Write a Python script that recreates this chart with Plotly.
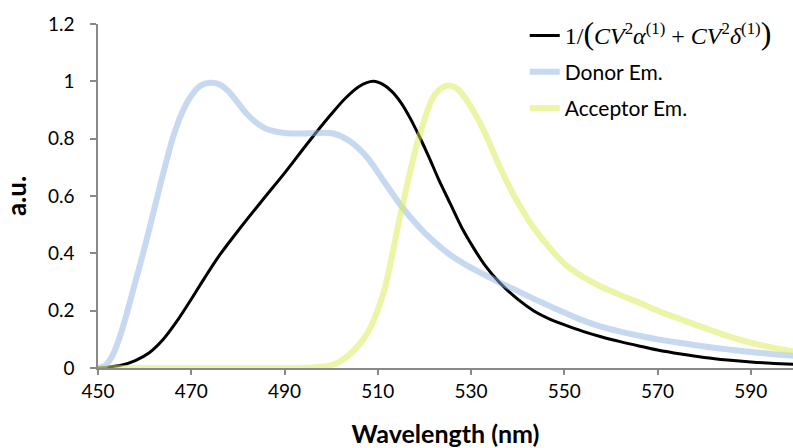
import plotly.graph_objects as go

# ---- data ----
fit_x = [450, 452, 455, 458, 461, 464, 467, 470, 473, 476, 480, 485, 490, 495, 500,
         503, 506, 509, 511, 513, 515, 517, 519, 521, 523, 525.5, 528, 530.5, 533, 536,
         540, 543.4, 547, 550.5, 554, 557.7, 562, 566, 570, 575, 580, 585, 590, 595, 600]
fit_y = [0, 0.003, 0.01, 0.026, 0.053, 0.10, 0.165, 0.24, 0.318, 0.392, 0.478, 0.58, 0.68, 0.785, 0.885,
         0.94, 0.982, 1.0, 0.99, 0.965, 0.925, 0.87, 0.805, 0.735, 0.66, 0.575, 0.49, 0.42, 0.358, 0.30,
         0.24, 0.20, 0.17, 0.148, 0.128, 0.11, 0.092, 0.077, 0.063, 0.049, 0.037, 0.028, 0.021, 0.016, 0.012]

donor_x = [450, 451.5, 453, 454.5, 456, 458, 460, 462, 464, 466, 468, 470, 472, 474, 476, 478,
           480, 482, 484, 486, 488, 490, 493.4, 497, 500.5, 504.1, 507.7, 511.2, 514.8, 518.4,
           521.9, 525.5, 529.1, 532.7, 536.2, 539.8, 543.4, 547, 550.5, 554, 557.7, 562, 566,
           570, 575, 580, 585, 590, 595, 600]
donor_y = [0, 0.008, 0.04, 0.1, 0.18, 0.3, 0.42, 0.55, 0.68, 0.8, 0.89, 0.95, 0.985, 0.995, 0.99, 0.965,
           0.925, 0.885, 0.855, 0.835, 0.825, 0.82, 0.818, 0.82, 0.818, 0.79, 0.735, 0.654, 0.57, 0.50,
           0.443, 0.395, 0.358, 0.327, 0.298, 0.27, 0.242, 0.215, 0.19, 0.166, 0.145, 0.127, 0.113,
           0.10, 0.087, 0.075, 0.065, 0.056, 0.048, 0.042]

acc_x = [450, 470, 490, 496, 500.5, 504.1, 507.7, 511.2, 514.8, 518.4, 521.9, 524, 525.5, 527,
         529.1, 532.7, 536.2, 539.8, 543.4, 547, 550.5, 554, 557.7, 562, 566, 570, 575, 580,
         585, 590, 595, 600]
acc_y = [0, 0, 0, 0.002, 0.012, 0.05, 0.12, 0.26, 0.53, 0.78, 0.945, 0.98, 0.985, 0.975,
         0.933, 0.83, 0.70, 0.584, 0.49, 0.416, 0.357, 0.318, 0.285, 0.255, 0.228, 0.20, 0.17, 0.14,
         0.112, 0.088, 0.07, 0.056]

x_ticks = [450, 470, 490, 510, 530, 550, 570, 590]
y_ticks = [0, 0.2, 0.4, 0.6, 0.8, 1.0, 1.2]
y_tick_text = ["0", "0.2", "0.4", "0.6", "0.8", "1", "1.2"]

fit_name = ('<span style="font-family:Liberation Serif;font-size:24px">1/'
            '<span style="font-size:32px">(</span>'
            '<i>CV</i><sup>2</sup><i>α</i><sup>(1)</sup> + <i>CV</i><sup>2</sup><i>δ</i><sup>(1)</sup>'
            '<span style="font-size:32px">)</span></span>')

fig = go.Figure()
fig.add_trace(go.Scatter(x=fit_x, y=fit_y, mode="lines", name=fit_name, legendgroup="a",
                         line=dict(color="black", width=3, shape="spline", smoothing=0.8)))
fig.add_trace(go.Scatter(x=donor_x, y=donor_y, mode="lines", name="Donor Em.", legendgroup="b",
                         line=dict(color="rgba(141,180,226,0.5)", width=6, shape="spline", smoothing=0.8)))
fig.add_trace(go.Scatter(x=acc_x, y=acc_y, mode="lines", name="Acceptor Em.", legendgroup="c",
                         line=dict(color="rgba(215,235,75,0.5)", width=6, shape="spline", smoothing=0.8)))

axis_common = dict(showline=True, linecolor="#898989", linewidth=1.5, ticks="outside",
                   tickcolor="#898989", tickwidth=1.5, showgrid=False, zeroline=False,
                   tickfont=dict(family="Lato", size=19, color="black"))

fig.update_layout(
    width=793, height=448,
    margin=dict(l=98, r=0, t=24, b=80, pad=0),
    paper_bgcolor="white", plot_bgcolor="white",
    font=dict(family="Lato", color="black"),
    xaxis=dict(range=[450, 599.05], tickvals=x_ticks, ticklen=5,
               title=dict(text="<b>Wavelength (nm)</b>", font=dict(family="Lato", size=25), standoff=26),
               **axis_common),
    yaxis=dict(range=[0, 1.2], tickvals=y_ticks, ticktext=y_tick_text,
               ticklen=6, ticklabelstandoff=12,
               title=dict(text="<b>a.u.</b>", font=dict(family="Lato", size=26), standoff=21),
               **axis_common),
    legend=dict(x=0.614, y=1.025, xanchor="left", yanchor="top", bgcolor="rgba(0,0,0,0)",
                font=dict(family="Lato", size=21, color="black"), itemwidth=30,
                tracegroupgap=6),
    showlegend=True,
)

fig.write_html("out.html")
